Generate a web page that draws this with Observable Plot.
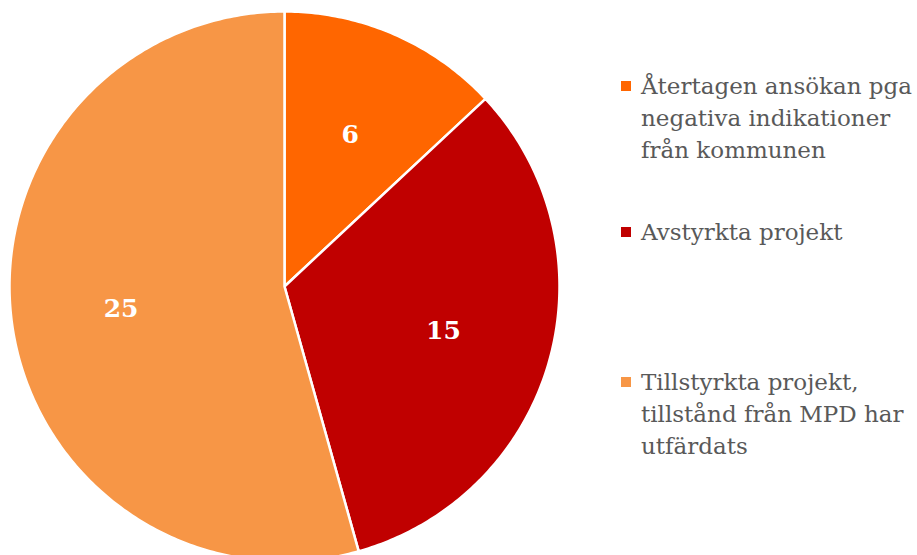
<!DOCTYPE html>
<html><head><meta charset="utf-8">
<script src="https://cdn.jsdelivr.net/npm/d3@7"></script>
<script src="https://cdn.jsdelivr.net/npm/@observablehq/plot@0.6"></script>
<style>
body{margin:0;background:#fff;font-family:"DejaVu Serif",serif;}
#wrap{position:relative;width:917px;height:555px;overflow:hidden;}
#legend{position:absolute;left:621px;top:0;width:300px;color:#595959;font-size:23px;line-height:32px;}
.item{position:absolute;left:0;padding-left:20px;white-space:nowrap;}
.sw{position:absolute;left:0;top:11px;width:10px;height:10px;}
</style></head><body>
<div id="wrap"><div id="legend"></div></div>
<script>
const categories = ["Återtagen ansökan pga negativa indikationer från kommunen", "Avstyrkta projekt", "Tillstyrkta projekt, tillstånd från MPD har utfärdats"];
const legendLines = [["Återtagen ansökan pga","negativa indikationer","från kommunen"],["Avstyrkta projekt"],["Tillstyrkta projekt,","tillstånd från MPD har","utfärdats"]];
const values = [6, 15, 25];
const colors = ["#FF6600", "#C00000", "#F79646"];

const pie = d3.pie().sort(null).value(d => d.value)(categories.map((c,i)=>({cat:c, value:values[i]})));
const pts = [];
for (const a of pie) {
  pts.push({cat:a.data.cat, x:0, y:0});
  const n = Math.max(2, Math.ceil((a.endAngle - a.startAngle) * 80));
  for (let k = 0; k <= n; k++) {
    const t = a.startAngle + (a.endAngle - a.startAngle) * k / n;
    pts.push({cat:a.data.cat, x:Math.sin(t), y:Math.cos(t)});
  }
}
const labels = pie.map(a => {const m=(a.startAngle+a.endAngle)/2; return {text:String(a.data.value), x:0.6*Math.sin(m), y:0.6*Math.cos(m)};});

const cx = 284, cy = 286, R = 275;
const chart = Plot.plot({
  width: 917, height: 555,
  x: {domain:[-1,1], range:[cx-R, cx+R], axis:null},
  y: {domain:[-1,1], range:[cy+R, cy-R], axis:null},
  color: {domain: categories, range: colors},
  marks: [
    Plot.line(pts, {x:"x", y:"y", z:"cat", fill:"cat", stroke:"white", strokeWidth:2.5, curve:"linear-closed"}),
    Plot.text(labels, {x:"x", y:"y", text:"text", fill:"white", fontSize:25, fontWeight:"bold", fontFamily:"DejaVu Serif"})
  ]
});
chart.style.position="absolute"; chart.style.left="0"; chart.style.top="0";
document.getElementById("wrap").prepend(chart);

const tops = [70, 216, 366];
const leg = document.getElementById("legend");
legendLines.forEach((lines,i)=>{
  const d = document.createElement("div");
  d.className="item"; d.style.top = tops[i]+"px";
  d.innerHTML = `<span class="sw" style="background:${colors[i]}"></span>` + lines.join("<br>");
  leg.appendChild(d);
});
</script>
</body></html>
